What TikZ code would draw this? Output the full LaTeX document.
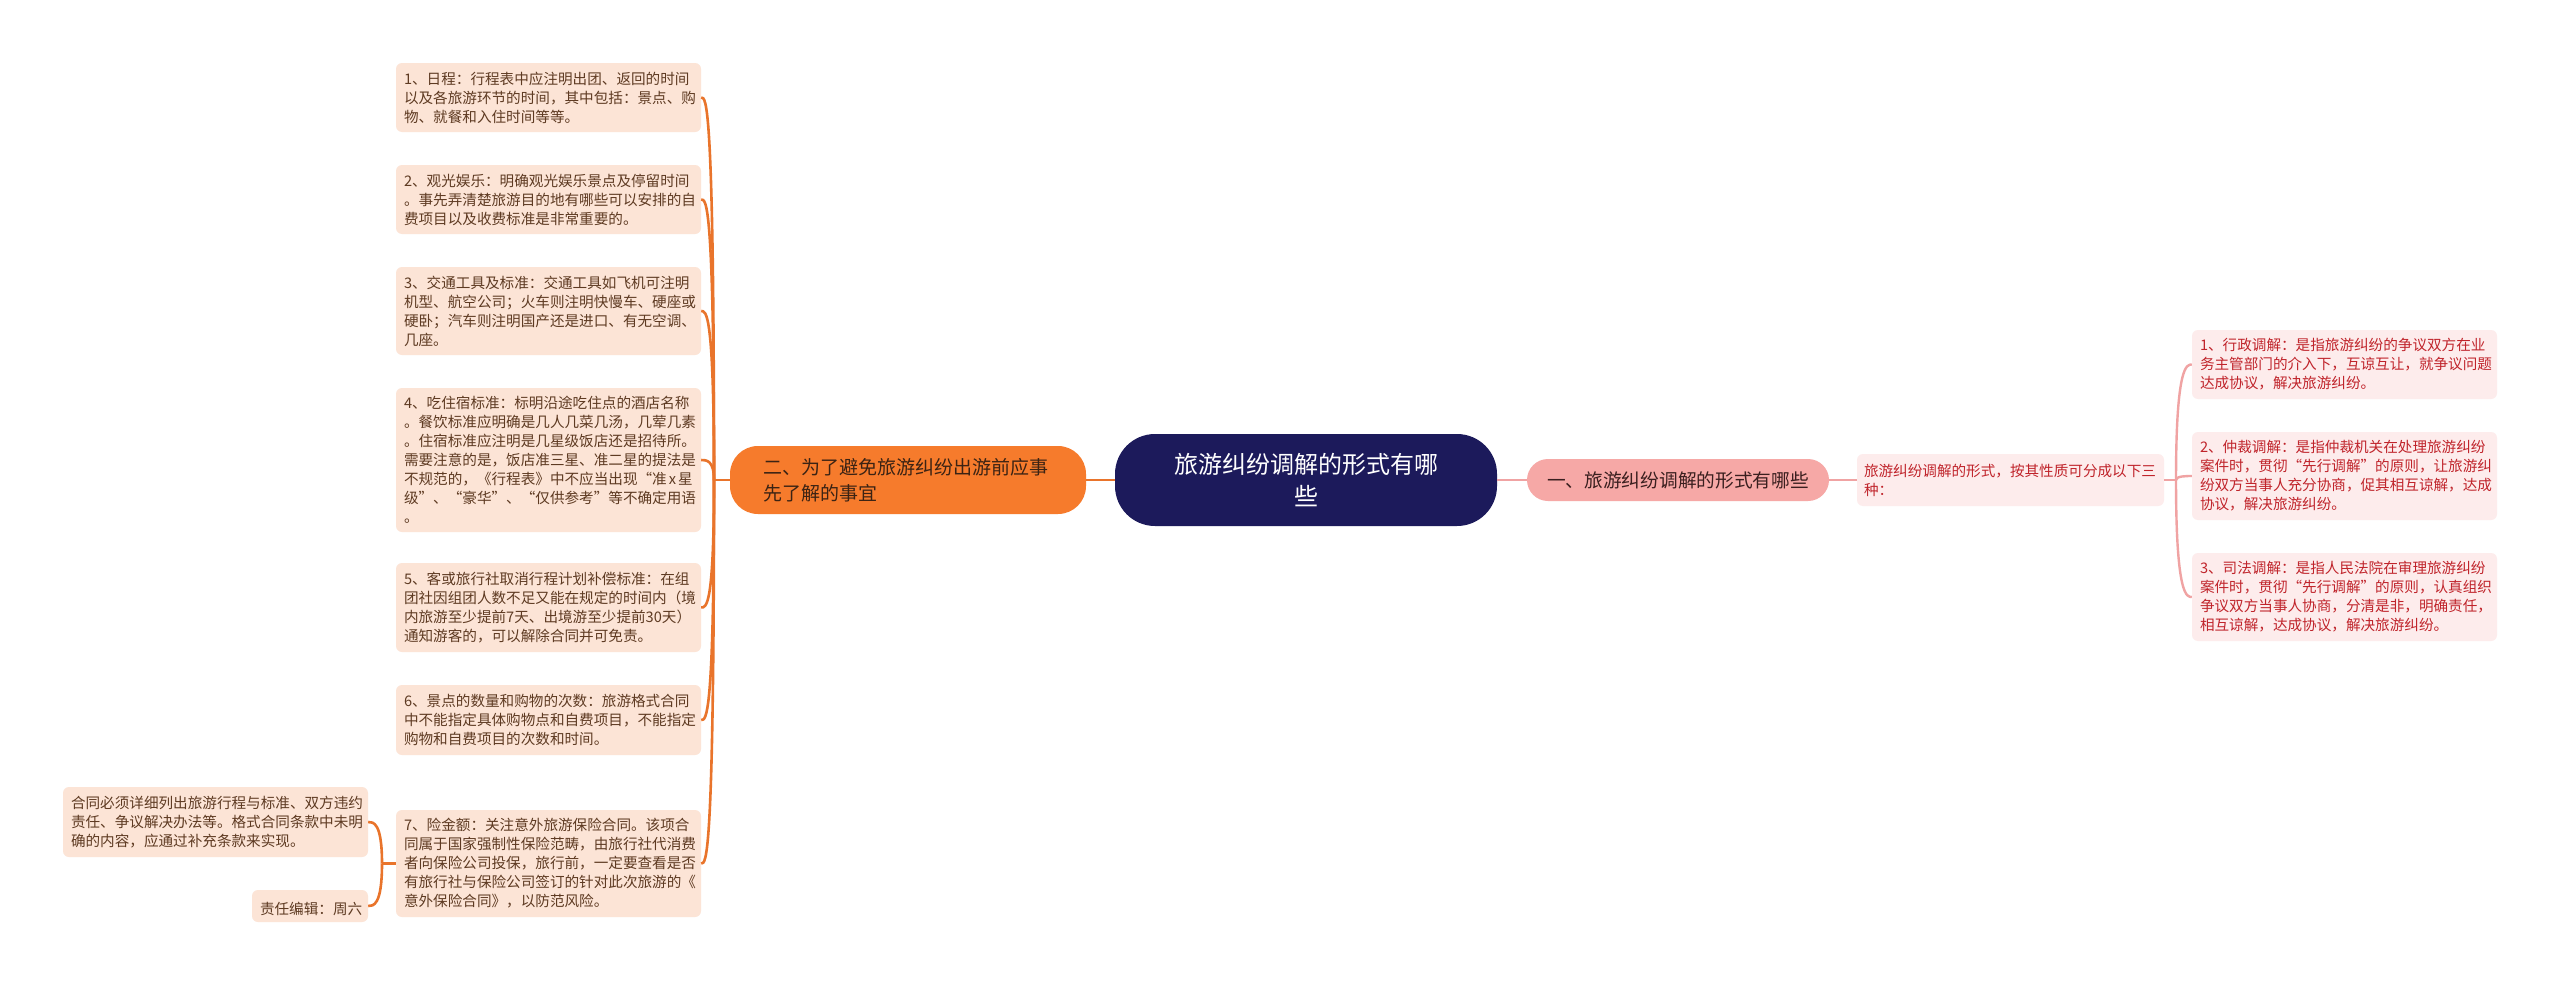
\documentclass[tikz,border=0pt]{standalone}
\usepackage{fontspec}
\setmainfont{Noto Sans CJK SC}
\definecolor{navy}{HTML}{1C1A5B}
\definecolor{ofill}{HTML}{F67B2C}
\definecolor{otext}{HTML}{3B2314}
\definecolor{ocol}{HTML}{E9742B}
\definecolor{lfill}{HTML}{FCE4D6}
\definecolor{ltext}{HTML}{5E3A22}
\definecolor{pfill}{HTML}{F6A8A6}
\definecolor{ptext}{HTML}{3A1F1F}
\definecolor{pcol}{HTML}{F0A3A3}
\definecolor{rfill}{HTML}{FDECEC}
\definecolor{rtext}{HTML}{C0242B}
\tikzset{
  lbox/.style={fill=lfill, rounded corners=6pt, text=ltext, align=left, text width=289pt, inner xsep=8pt, inner ysep=0pt, font=\fontsize{14.6}{19}\selectfont},
  rbox/.style={fill=rfill, rounded corners=6pt, text=rtext, align=left, text width=289pt, inner xsep=8pt, inner ysep=0pt, font=\fontsize{14.6}{19}\selectfont},
  oline/.style={draw=ocol, line width=2.6pt},
  pline/.style={draw=pcol, line width=2.4pt},
}
\begin{document}
\begin{tikzpicture}[x=1pt,y=-1pt]
\useasboundingbox[fill=white] (0,0) rectangle (2560,985);
% central
\node[fill=navy, text=white, rounded corners=40pt, minimum width=382pt, minimum height=92pt, align=center, font=\fontsize{24}{32}\selectfont, inner sep=0pt] (c) at (1306,480) {旅游纠纷调解的形式有哪\\些};
% left main
\node[fill=ofill, text=otext, rounded corners=28pt, minimum width=356pt, minimum height=68pt, align=left, text width=290pt, inner xsep=33pt, inner ysep=0pt, font=\fontsize{19}{26}\selectfont] (o) at (908,480) {二、为了避免旅游纠纷出游前应事\\先了解的事宜};
% right main
\node[fill=pfill, text=ptext, rounded corners=21pt, minimum width=302pt, minimum height=42pt, inner sep=0pt, font=\fontsize{18.7}{24}\selectfont] (p) at (1678,480) {一、旅游纠纷调解的形式有哪些};
\node[rbox, text width=293pt, inner xsep=7pt, minimum height=52pt] (t) at (2010.5,480) {旅游纠纷调解的形式，按其性质可分成以下三\\种：};
% right children
\node[rbox, minimum height=69pt] (r1) at (2344.5,364.5) {1、行政调解：是指旅游纠纷的争议双方在业\\务主管部门的介入下，互谅互让，就争议问题\\达成协议，解决旅游纠纷。};
\node[rbox, minimum height=88pt] (r2) at (2344.5,476) {2、仲裁调解：是指仲裁机关在处理旅游纠纷\\案件时，贯彻“先行调解”的原则，让旅游纠\\纷双方当事人充分协商，促其相互谅解，达成\\协议，解决旅游纠纷。};
\node[rbox, minimum height=88pt] (r3) at (2344.5,597) {3、司法调解：是指人民法院在审理旅游纠纷\\案件时，贯彻“先行调解”的原则，认真组织\\争议双方当事人协商，分清是非，明确责任，\\相互谅解，达成协议，解决旅游纠纷。};
% left children
\node[lbox, minimum height=69pt] (b1) at (548.5,97.5) {1、日程：行程表中应注明出团、返回的时间\\以及各旅游环节的时间，其中包括：景点、购\\物、就餐和入住时间等等。};
\node[lbox, minimum height=69pt] (b2) at (548.5,199.5) {2、观光娱乐：明确观光娱乐景点及停留时间\\。事先弄清楚旅游目的地有哪些可以安排的自\\费项目以及收费标准是非常重要的。};
\node[lbox, minimum height=88pt] (b3) at (548.5,311) {3、交通工具及标准：交通工具如飞机可注明\\机型、航空公司；火车则注明快慢车、硬座或\\硬卧；汽车则注明国产还是进口、有无空调、\\几座。};
\node[lbox, minimum height=144pt] (b4) at (548.5,460) {4、吃住宿标准：标明沿途吃住点的酒店名称\\。餐饮标准应明确是几人几菜几汤，几荤几素\\。住宿标准应注明是几星级饭店还是招待所。\\需要注意的是，饭店准三星、准二星的提法是\\不规范的，《行程表》中不应当出现“准\kern2pt x\kern2pt 星\\级”、“豪华”、“仅供参考”等不确定用语\\。};
\node[lbox, minimum height=89pt] (b5) at (548.5,607.5) {5、客或旅行社取消行程计划补偿标准：在组\\团社因组团人数不足又能在规定的时间内（境\\内旅游至少提前7天、出境游至少提前30天）\\通知游客的，可以解除合同并可免责。};
\node[lbox, minimum height=70pt] (b6) at (548.5,720) {6、景点的数量和购物的次数：旅游格式合同\\中不能指定具体购物点和自费项目，不能指定\\购物和自费项目的次数和时间。};
\node[lbox, minimum height=107pt] (b7) at (548.5,863.5) {7、险金额：关注意外旅游保险合同。该项合\\同属于国家强制性保险范畴，由旅行社代消费\\者向保险公司投保，旅行前，一定要查看是否\\有旅行社与保险公司签订的针对此次旅游的《\\意外保险合同》，以防范风险。};
\node[lbox, minimum height=70pt] (l1) at (215.5,822) {合同必须详细列出旅游行程与标准、双方违约\\责任、争议解决办法等。格式合同条款中未明\\确的内容，应通过补充条款来实现。};
\node[lbox, text width=100pt, minimum height=32pt] (l2) at (310,906) {\hfill 责任编辑：周六};
% connectors
\coordinate (lt) at (714,480);
\coordinate (lb) at (382,863.5);
\coordinate (rt) at (2176,480);
\draw[oline] (c.west) -- (o.east);
\draw[oline] (o.west) -- (lt);
\foreach \n in {b1,b2,b3,b4,b5,b6,b7}
  \draw[oline] (lt) .. controls (lt |- \n.east) and ([xshift=5pt]\n.east) .. (\n.east);
\draw[oline] (b7.west) -- (lb);
\foreach \n in {l1,l2}
  \draw[oline] (lb) .. controls (lb |- \n.east) and ([xshift=5pt]\n.east) .. (\n.east);
\draw[pline] (c.east) -- (p.west);
\draw[pline] (p.east) -- (t.west);
\draw[pline] (t.east) -- (rt);
\foreach \n in {r1,r2,r3}
  \draw[pline] (rt) .. controls (rt |- \n.west) and ([xshift=-5pt]\n.west) .. (\n.west);
\end{tikzpicture}
\end{document}
